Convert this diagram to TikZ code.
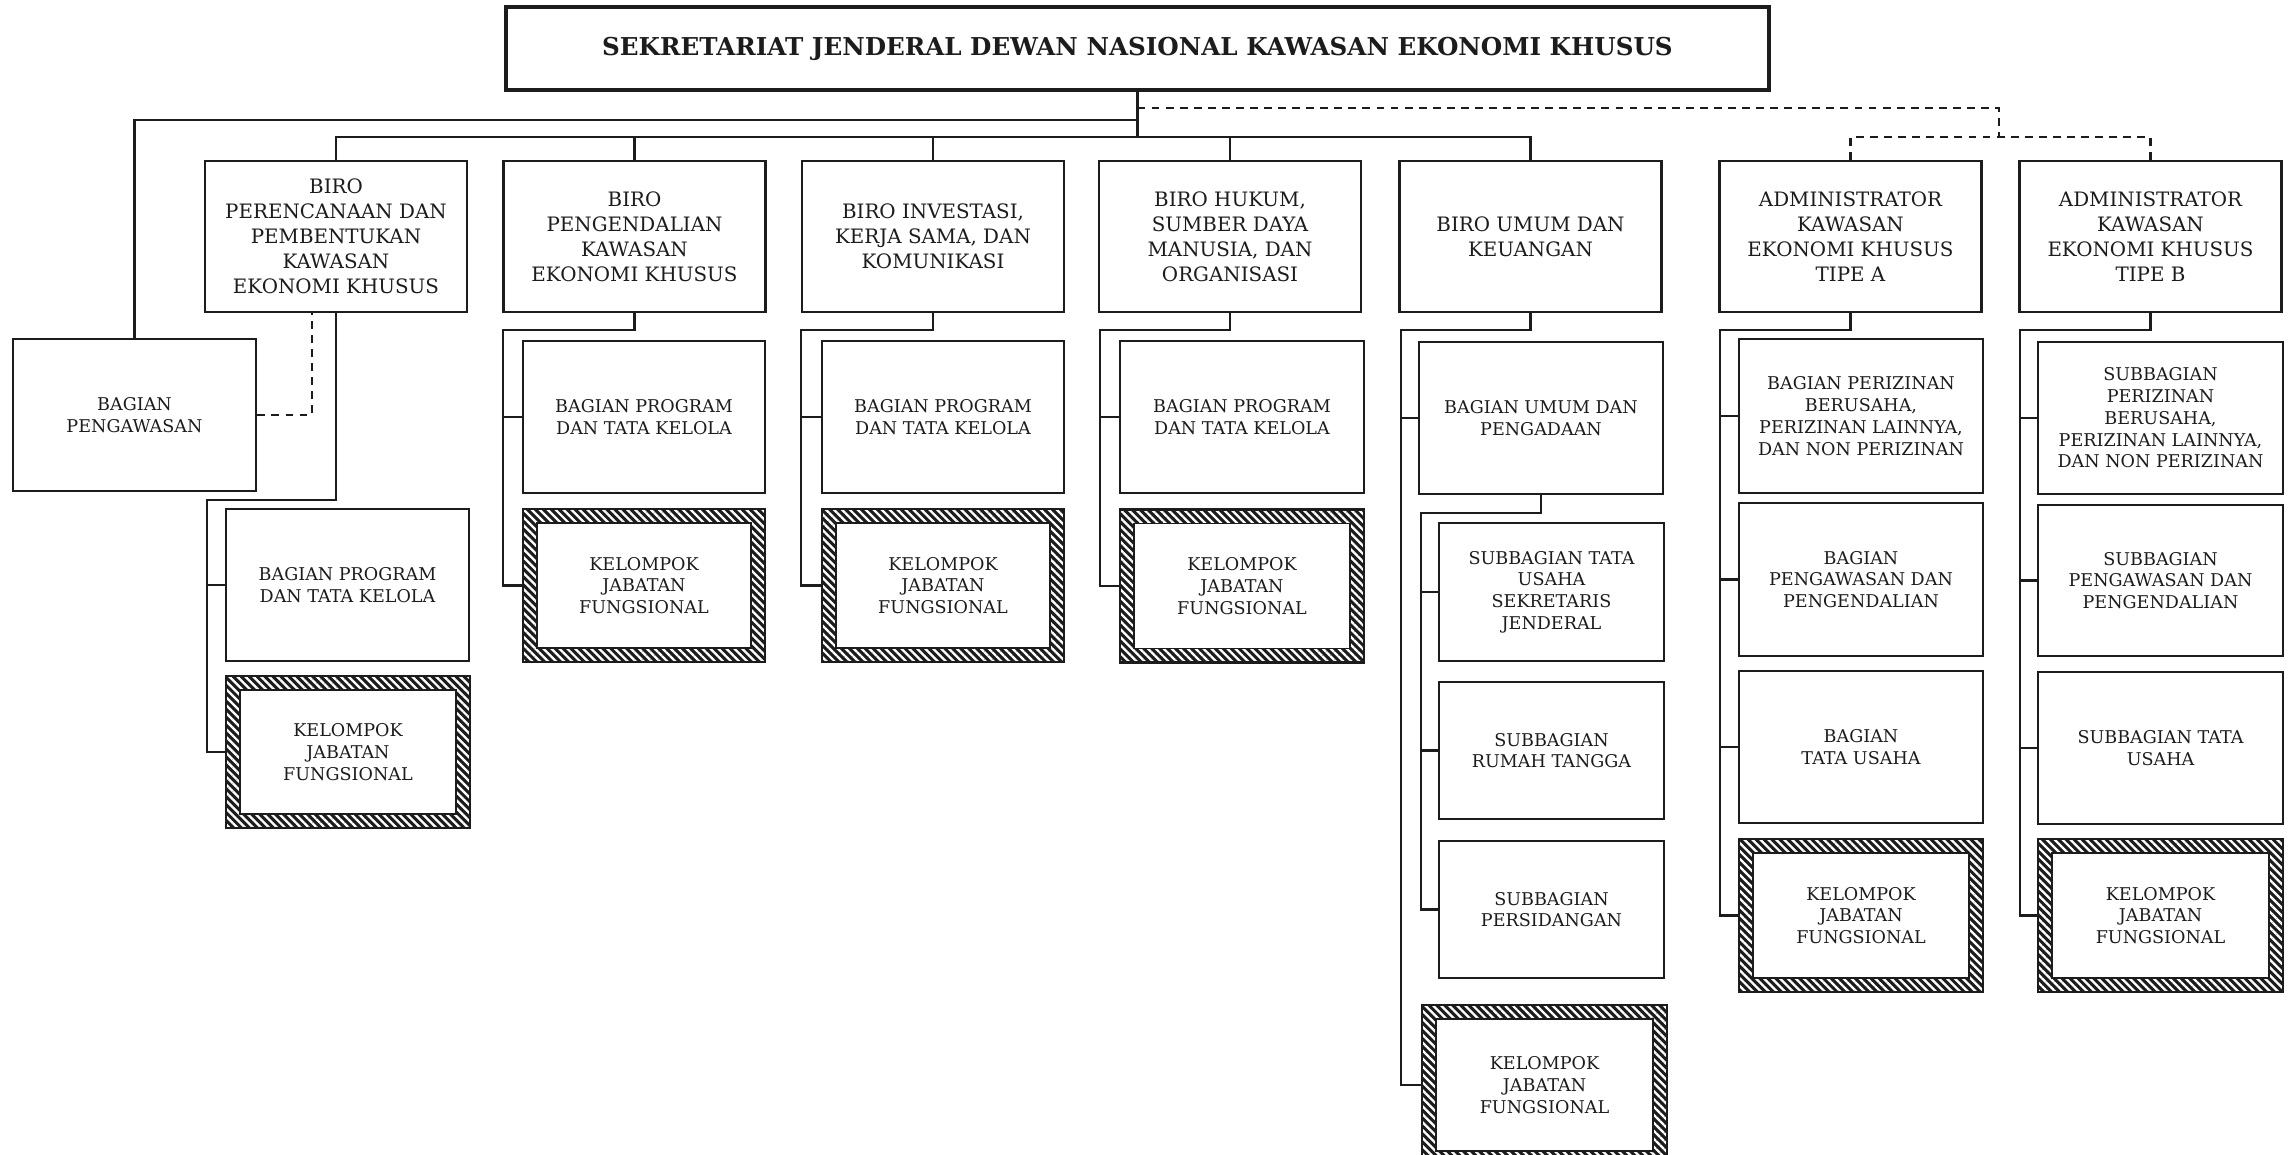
\documentclass[tikz,border=0pt]{standalone}
\usepackage{fontspec}
\setmainfont{DejaVu Serif}
\usetikzlibrary{patterns.meta}
\definecolor{Tinta}{RGB}{28, 28, 28}

\tikzset{
	garis/.style={draw=Tinta, line width=1.3pt},
	putus/.style={garis, dash pattern=on 4.5pt off 3.5pt},
	kotak/.style 2 args={draw=Tinta, line width=1.6pt, minimum width=#1*0.2mm, minimum height=#2*0.2mm, inner sep=0pt, align=center, text=Tinta, font=\fontsize{10}{12.4}\selectfont},
	unit/.style 2 args={kotak={#1}{#2}, fill=white},
	biro/.style={unit={262}{151}, font=\fontsize{11.3}{14.2}\selectfont},
	kjf/.style 2 args={kotak={#1}{#2},
		preaction={fill=Tinta},
		preaction={pattern={Lines[angle=-45, distance=3.2pt, line width=1.3pt]}, pattern color=white},
		path picture={\draw[Tinta, line width=1pt, fill=white] ([xshift=2.8mm, yshift=-2.8mm]path picture bounding box.north west) rectangle ([xshift=-2.8mm, yshift=2.8mm]path picture bounding box.south east);}},
}

\begin{document}
\begin{tikzpicture}[x=0.2mm, y=-0.2mm]
	\useasboundingbox (0,0) rectangle (2295,1155);
	\clip (0,0) rectangle (2295,1155);

	% Dibuja la caja principal y los biros
	\node[unit={1263}{83}, line width=2pt, font=\bfseries\fontsize{14}{17}\selectfont] (sekjen) at (1137.5,48.5) {SEKRETARIAT JENDERAL DEWAN NASIONAL KAWASAN EKONOMI KHUSUS};
	\node[biro] (biroRencana) at (336,236.5) {BIRO\\PERENCANAAN DAN\\PEMBENTUKAN\\KAWASAN\\EKONOMI KHUSUS};
	\node[biro] (biroKendali) at (634.5,236.5) {BIRO\\PENGENDALIAN\\KAWASAN\\EKONOMI KHUSUS};
	\node[biro] (biroInvestasi) at (933,236.5) {BIRO INVESTASI,\\KERJA SAMA, DAN\\KOMUNIKASI};
	\node[biro] (biroHukum) at (1230,236.5) {BIRO HUKUM,\\SUMBER DAYA\\MANUSIA, DAN\\ORGANISASI};
	\node[biro] (biroUmum) at (1530.5,236.5) {BIRO UMUM DAN\\KEUANGAN};
	\node[biro] (admA) at (1850.5,236.5) {ADMINISTRATOR\\KAWASAN\\EKONOMI KHUSUS\\TIPE A};
	\node[biro] (admB) at (2150.5,236.5) {ADMINISTRATOR\\KAWASAN\\EKONOMI KHUSUS\\TIPE B};

	% Bagian y kelompok de cada biro
	\node[unit={243}{152}] (bagAwas) at (134.5,415) {BAGIAN\\PENGAWASAN};
	\node[unit={243}{152}] (progRencana) at (347.5,585) {BAGIAN PROGRAM\\DAN TATA KELOLA};
	\node[kjf={244}{152}] (kjfRencana) at (348,752) {KELOMPOK\\JABATAN\\FUNGSIONAL};

	\node[unit={242}{152}] (progKendali) at (644,417) {BAGIAN PROGRAM\\DAN TATA KELOLA};
	\node[kjf={242}{153}] (kjfKendali) at (644,585.5) {KELOMPOK\\JABATAN\\FUNGSIONAL};

	\node[unit={242}{152}] (progInvestasi) at (943,417) {BAGIAN PROGRAM\\DAN TATA KELOLA};
	\node[kjf={242}{153}] (kjfInvestasi) at (943,585.5) {KELOMPOK\\JABATAN\\FUNGSIONAL};

	\node[unit={244}{152}] (progHukum) at (1242,417) {BAGIAN PROGRAM\\DAN TATA KELOLA};
	\node[kjf={244}{153}] (kjfHukum) at (1242,586) {KELOMPOK\\JABATAN\\FUNGSIONAL};

	\node[unit={244}{152}] (bagUmum) at (1541,418) {BAGIAN UMUM DAN\\PENGADAAN};
	\node[unit={225}{138}] (subTU) at (1551.5,592) {SUBBAGIAN TATA\\USAHA\\SEKRETARIS\\JENDERAL};
	\node[unit={225}{137}] (subRT) at (1551.5,750.5) {SUBBAGIAN\\RUMAH TANGGA};
	\node[unit={225}{137}] (subSidang) at (1551.5,909.5) {SUBBAGIAN\\PERSIDANGAN};
	\node[kjf={245}{160}] (kjfUmum) at (1544.5,1085) {KELOMPOK\\JABATAN\\FUNGSIONAL};

	\node[unit={244}{154}] (izinA) at (1861,416) {BAGIAN PERIZINAN\\BERUSAHA,\\PERIZINAN LAINNYA,\\DAN NON PERIZINAN};
	\node[unit={244}{153}] (awasA) at (1861,579.5) {BAGIAN\\PENGAWASAN DAN\\PENGENDALIAN};
	\node[unit={244}{152}] (tuA) at (1861,747) {BAGIAN\\TATA USAHA};
	\node[kjf={244}{153}] (kjfA) at (1861,915.5) {KELOMPOK\\JABATAN\\FUNGSIONAL};

	\node[unit={245}{152}] (izinB) at (2160.5,418) {SUBBAGIAN\\PERIZINAN\\BERUSAHA,\\PERIZINAN LAINNYA,\\DAN NON PERIZINAN};
	\node[unit={245}{151}] (awasB) at (2160.5,580.5) {SUBBAGIAN\\PENGAWASAN DAN\\PENGENDALIAN};
	\node[unit={245}{152}] (tuB) at (2160.5,748) {SUBBAGIAN TATA\\USAHA};
	\node[kjf={245}{153}] (kjfB) at (2160.5,915.5) {KELOMPOK\\JABATAN\\FUNGSIONAL};

	% Puntos de las lineas
	\coordinate (jalurAdm) at (0,108);
	\coordinate (jalurKiri) at (0,120);
	\coordinate (jalurBiro) at (0,137);
	\coordinate (belokAdm) at (1999,137);
	\coordinate (awasX) at (312,0);
	\coordinate (sikuRencana) at (207,500);
	\coordinate (sikuKendali) at (503,330);
	\coordinate (sikuInvestasi) at (801,330);
	\coordinate (sikuHukum) at (1100,330);
	\coordinate (sikuUmum) at (1401,330);
	\coordinate (sikuSub) at (1421,513);
	\coordinate (sikuA) at (1720,330);
	\coordinate (sikuB) at (2020,330);

	% Lineas desde la caja principal
	\draw[garis] (sekjen.south) -- (sekjen.south |- jalurBiro);
	\draw[garis] (sekjen.south |- jalurKiri) -| (bagAwas.north);
	\draw[garis] (biroRencana.north) |- (biroUmum.north |- jalurBiro) -- (biroUmum.north);
	\draw[garis] (biroKendali.north) -- (biroKendali.north |- jalurBiro);
	\draw[garis] (biroInvestasi.north) -- (biroInvestasi.north |- jalurBiro);
	\draw[garis] (biroHukum.north) -- (biroHukum.north |- jalurBiro);
	\draw[putus] (sekjen.south |- jalurAdm) -| (belokAdm);
	\draw[putus] (admA.north) |- (admB.north |- jalurBiro) -- (admB.north);

	% Lineas de cada columna
	\draw[putus] (bagAwas.east) -| (biroRencana.south -| awasX);
	\draw[garis] (biroRencana.south) |- (sikuRencana) |- (kjfRencana.west);
	\draw[garis] (sikuRencana |- progRencana.west) -- (progRencana.west);

	\draw[garis] (biroKendali.south) |- (sikuKendali) |- (kjfKendali.west);
	\draw[garis] (sikuKendali |- progKendali.west) -- (progKendali.west);
	\draw[garis] (biroInvestasi.south) |- (sikuInvestasi) |- (kjfInvestasi.west);
	\draw[garis] (sikuInvestasi |- progInvestasi.west) -- (progInvestasi.west);
	\draw[garis] (biroHukum.south) |- (sikuHukum) |- (kjfHukum.west);
	\draw[garis] (sikuHukum |- progHukum.west) -- (progHukum.west);

	\draw[garis] (biroUmum.south) |- (sikuUmum) |- (kjfUmum.west);
	\draw[garis] (sikuUmum |- bagUmum.west) -- (bagUmum.west);
	\draw[garis] (bagUmum.south) |- (sikuSub) |- (subSidang.west);
	\draw[garis] (sikuSub |- subTU.west) -- (subTU.west);
	\draw[garis] (sikuSub |- subRT.west) -- (subRT.west);

	\draw[garis] (admA.south) |- (sikuA) |- (kjfA.west);
	\foreach \n in {izinA, awasA, tuA}
		\draw[garis] (sikuA |- \n.west) -- (\n.west);
	\draw[garis] (admB.south) |- (sikuB) |- (kjfB.west);
	\foreach \n in {izinB, awasB, tuB}
		\draw[garis] (sikuB |- \n.west) -- (\n.west);
\end{tikzpicture}
\end{document}
